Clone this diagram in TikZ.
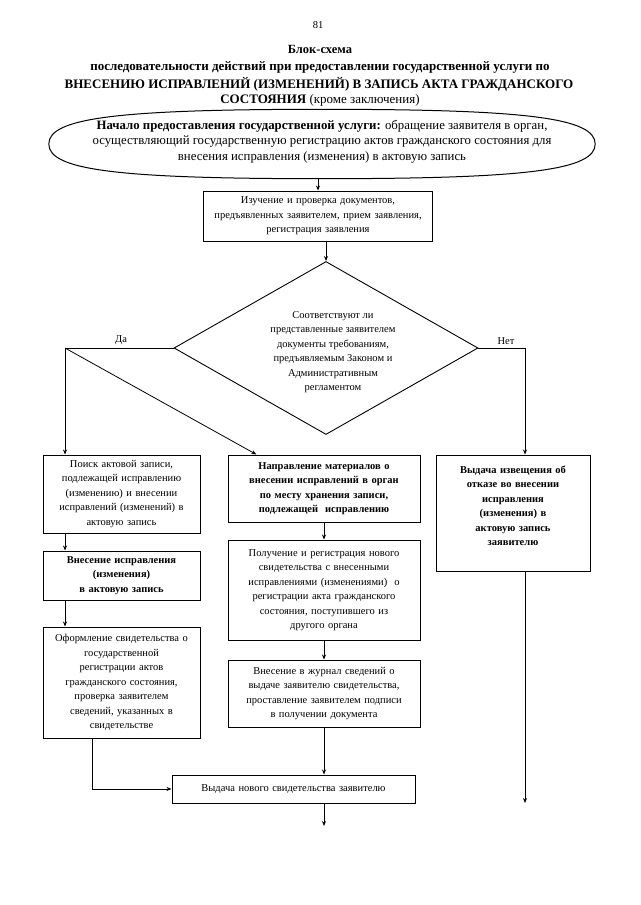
\documentclass[tikz,border=0pt]{standalone}
\usepackage{fontspec}
\setmainfont{Liberation Serif}
\usetikzlibrary{shapes.geometric,arrows.meta,calc}
\begin{document}
\begin{tikzpicture}[x=1pt,y=-1pt,
  blk/.style={draw, line width=1pt, align=center, inner sep=0pt, font=\fontsize{10.5}{14.5}\selectfont},
  arr/.style={line width=0.8pt, -{Stealth[length=5pt,width=4pt]}},
  ln/.style={line width=0.8pt},
  ttl/.style={inner sep=0pt, font=\fontsize{13}{15}\selectfont\bfseries},
  lbl/.style={inner sep=0pt, font=\fontsize{10.5}{12}\selectfont}]
\useasboundingbox[fill=white] (0,0) rectangle (640,905);

% header
\node[lbl] (pg) at (318,25) {81};
\node[ttl, font=\fontsize{12.5}{15}\selectfont\bfseries] (t1) at (320,49) {Блок-схема};
\node[ttl] (t2) at (320,67) {последовательности действий при предоставлении государственной услуги по};
\node[ttl] (t3) at (319,84) {ВНЕСЕНИЮ ИСПРАВЛЕНИЙ (ИЗМЕНЕНИЙ) В ЗАПИСЬ АКТА ГРАЖДАНСКОГО};
\node[ttl] (t4) at (320,100) {СОСТОЯНИЯ \mdseries(кроме заключения)};

% start shape (flattened ellipse drawn round a fixed-size node)
\node[inner sep=0pt, minimum width=546pt, minimum height=69pt] (start) at (322,144) {};
\draw[line width=1pt] (start.west) .. controls +(0,-26) and +(-205,0) .. (start.north)
   .. controls +(205,0) and +(0,-26) .. (start.east)
   .. controls +(0,26) and +(205,0) .. (start.south)
   .. controls +(-205,0) and +(0,26) .. (start.west) -- cycle;
\node[inner sep=0pt, align=center, font=\fontsize{12.8}{15.5}\selectfont] (starttxt) at (322,141.5)
  {\textbf{Начало предоставления государственной услуги:} обращение заявителя в орган,\\
   осуществляющий государственную регистрацию актов гражданского состояния для\\
   внесения исправления (изменения) в актовую запись};

% box 1
\node[blk, minimum width=229pt, minimum height=50pt, text width=225pt] (box1) at (318,216)
  {Изучение и проверка документов,\\предъявленных заявителем, прием заявления,\\регистрация заявления};

% diamond
\node[draw, diamond, line width=0.9pt, minimum width=304pt, minimum height=173pt, inner sep=0pt] (dia) at (326,348) {};
\node[inner sep=0pt, align=center, font=\fontsize{10.5}{14.5}\selectfont] (diatxt) at (333,352)
  {Соответствуют ли\\представленные заявителем\\документы требованиям,\\предъявляемым Законом и\\Административным\\регламентом};

\coordinate (daL) at (65,348);
\coordinate (netR) at (525,348);
\node[lbl] (da) at (121,340) {Да};
\node[lbl] (net) at (506,341) {Нет};

% left column
\node[blk, minimum width=157pt, minimum height=78pt, text width=153pt] (lbox1) at (121.5,494)
  {Поиск актовой записи,\\подлежащей исправлению\\(изменению) и внесении\\исправлений (изменений) в\\актовую запись};
\node[blk, minimum width=157pt, minimum height=49pt, text width=153pt, font=\fontsize{10.5}{14.5}\selectfont\bfseries] (lbox2) at (121.5,575.5)
  {Внесение исправления\\(изменения)\\в актовую запись};
\node[blk, minimum width=157pt, minimum height=111pt, text width=153pt] (lbox3) at (121.5,682.5)
  {Оформление свидетельства о\\государственной\\регистрации актов\\гражданского состояния,\\проверка заявителем\\сведений, указанных в\\свидетельстве};

% centre column
\node[blk, minimum width=192pt, minimum height=67pt, text width=188pt, font=\fontsize{10.5}{14.5}\selectfont\bfseries] (cbox1) at (324,488.5)
  {Направление материалов о\\внесении исправлений в орган\\по месту хранения записи,\\подлежащей\ \ исправлению};
\node[blk, minimum width=192pt, minimum height=100pt, text width=188pt] (cbox2) at (324,590)
  {Получение и регистрация нового\\свидетельства с внесенными\\исправлениями (изменениями)\ \ о\\регистрации акта гражданского\\состояния, поступившего из\\другого органа};
\node[blk, minimum width=192pt, minimum height=67pt, text width=188pt] (cbox3) at (324,693.5)
  {Внесение в журнал сведений о\\выдаче заявителю свидетельства,\\проставление заявителем подписи\\в получении документа};

% right column
\node[blk, minimum width=154pt, minimum height=116pt, text width=150pt, font=\fontsize{10.5}{14.5}\selectfont\bfseries] (rbox) at (513,513)
  {Выдача извещения об\\отказе во внесении\\исправления\\(изменения) в\\актовую запись\\заявителю\\\mbox{}};

% final
\node[blk, minimum width=243pt, minimum height=28pt, text width=239pt] (final) at (293.5,789)
  {Выдача нового свидетельства заявителю};

\coordinate (endC) at (324,826);
\coordinate (endR) at (525,803);

% connectors
\draw[arr] (box1.north |- start.south) -- (box1.north);
\draw[arr] (box1.south -| dia.north) -- (dia.north);
\draw[ln] (dia.west) -- (daL);
\draw[arr] (daL) -- (daL |- lbox1.north);
\draw[arr] (daL) -- ($(cbox1.north west)!0.15!(cbox1.north east)$);
\draw[ln] (dia.east) -- (netR);
\draw[arr] (netR) -- (netR |- rbox.north);
\draw[arr] (lbox1.south -| daL) -- (lbox2.north -| daL);
\draw[arr] (lbox2.south -| daL) -- (lbox3.north -| daL);
\draw[arr] ($(lbox3.south west)+(50,0)$) |- (final.west);
\draw[arr] (cbox1.south) -- (cbox2.north);
\draw[arr] (cbox2.south) -- (cbox3.north);
\draw[arr] (cbox3.south) -- (cbox3.south |- final.north);
\draw[arr] (final.south -| endC) -- (endC);
\draw[arr] (rbox.south -| endR) -- (endR);
\end{tikzpicture}
\end{document}
